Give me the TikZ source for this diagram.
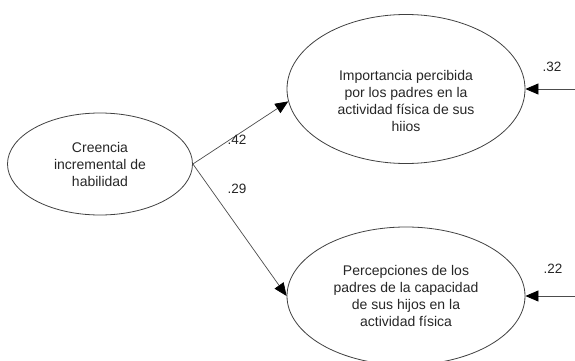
\documentclass[tikz,border=0pt]{standalone}
\usepackage{fontspec}
\setmainfont{Liberation Sans}
\usetikzlibrary{shapes.geometric,arrows.meta}
\begin{document}
\begin{tikzpicture}[x=1pt,y=-1pt,
  latent/.style={ellipse,draw=black!75,line width=0.8pt,inner sep=0pt},
  txt/.style={align=center,font=\fontsize{14}{17}\selectfont,text=black!85,inner sep=0pt},
  coef/.style={font=\fontsize{13.5}{15}\selectfont,text=black!85,inner sep=0pt},
  path/.style={draw=black!70,line width=0.7pt,-{Triangle[length=13pt,width=11pt,color=black]}}]
\useasboundingbox (0,0) rectangle (575,361);
\clip (0,0) rectangle (575,361);
\node[latent,minimum width=185pt,minimum height=102pt] (L) at (100,164) {};
\node[txt] (Lt) at (100,164) {Creencia\\incremental de\\habilidad};
\node[latent,minimum width=238pt,minimum height=149pt] (T) at (406,89) {};
\node[txt] (Tt) at (406,101) {Importancia percibida\\por los padres en la\\actividad física de sus\\hiios};
\node[latent,minimum width=238pt,minimum height=138pt] (B) at (406,296) {};
\node[txt] (Bt) at (406,296) {Percepciones de los\\padres de la capacidad\\de sus hijos en la\\actividad física};
\coordinate (Te) at (575,89);
\coordinate (Be) at (575,296);
\draw[path] (L.east) -- (T.186);
\draw[path] (L.east) -- (B.west);
\draw[path] (Te) -- (T.east);
\draw[path] (Be) -- (B.east);
\node[coef] (c1) at (237,140) {.42};
\node[coef] (c2) at (237,189) {.29};
\node[coef] (c3) at (552,67) {.32};
\node[coef] (c4) at (553,269) {.22};
\end{tikzpicture}
\end{document}
